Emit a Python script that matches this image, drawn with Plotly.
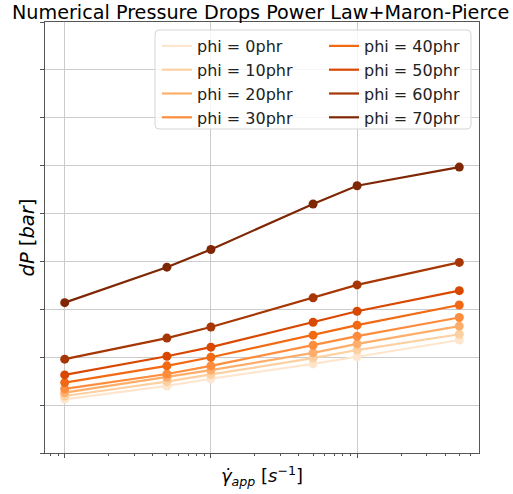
import plotly.graph_objects as go
import numpy as np

shear_rate = [10, 50, 100, 500, 1000, 5000]
phi_labels = ["phi = 0phr", "phi = 10phr", "phi = 20phr", "phi = 30phr",
              "phi = 40phr", "phi = 50phr", "phi = 60phr", "phi = 70phr"]
dp_phi0 = [1.12, 1.40, 1.55, 1.86, 2.01, 2.36]
dp_phi10 = [1.19, 1.49, 1.64, 1.98, 2.15, 2.48]
dp_phi20 = [1.26, 1.58, 1.73, 2.09, 2.28, 2.65]
dp_phi30 = [1.34, 1.65, 1.82, 2.25, 2.44, 2.83]
dp_phi40 = [1.47, 1.82, 2.00, 2.46, 2.67, 3.09]
dp_phi50 = [1.63, 2.02, 2.21, 2.73, 2.96, 3.39]
dp_phi60 = [1.96, 2.40, 2.63, 3.24, 3.51, 3.98]
dp_phi70 = [3.14, 3.88, 4.25, 5.20, 5.58, 5.97]
series = [dp_phi0, dp_phi10, dp_phi20, dp_phi30, dp_phi40, dp_phi50, dp_phi60, dp_phi70]
colors = ["#fee6ce", "#fdd0a2", "#fdae6b", "#fd8d3c",
          "#f16913", "#d94801", "#a63603", "#7f2704"]

fig = go.Figure()
for i, (lab, ys, c) in enumerate(zip(phi_labels, series, colors)):
    leg = "legend" if i < 4 else "legend2"
    fig.add_trace(go.Scatter(x=shear_rate, y=ys, mode="lines", name=lab,
                             line=dict(color=c, width=2.2), legend=leg))
    fig.add_trace(go.Scatter(x=shear_rate, y=ys, mode="markers", showlegend=False,
                             marker=dict(color=c, size=9)))

minor_vals = [m * 10 ** e for e in range(0, 4) for m in range(2, 10)]

font_family = "DejaVu Sans"
W, H = 513, 494
ml, mr, mt, mb = 45, 34, 22, 41
pw, ph = W - ml - mr, H - mt - mb


def px2x(p):
    return (p - ml) / pw


def px2y(p):
    return (H - mb - p) / ph


# rounded legend frame (paper coords)
x0, x1, y0, y1 = px2x(155), px2x(471), px2y(129), px2y(30)
rx, ry = 4 / pw, 4 / ph
frame = (f"M {x0+rx},{y1} L {x1-rx},{y1} Q {x1},{y1} {x1},{y1-ry} "
         f"L {x1},{y0+ry} Q {x1},{y0} {x1-rx},{y0} L {x0+rx},{y0} "
         f"Q {x0},{y0} {x0},{y0+ry} L {x0},{y1-ry} Q {x0},{y1} {x0+rx},{y1} Z")

legend_common = dict(orientation="v", yanchor="top", xanchor="left",
                     bgcolor="rgba(0,0,0,0)", borderwidth=0,
                     font=dict(size=16, family=font_family, color="#222"),
                     itemwidth=30, tracegroupgap=0)

fig.update_layout(
    width=W, height=H,
    margin=dict(l=ml, r=mr, t=mt, b=mb),
    paper_bgcolor="white", plot_bgcolor="white",
    font=dict(family=font_family, color="black"),
    title=dict(text="Numerical Pressure Drops Power Law+Maron-Pierce",
               x=0.508, xanchor="center", y=0.975, yanchor="middle",
               font=dict(size=19.2, family=font_family)),
    showlegend=True,
    legend=dict(x=px2x(157), y=px2y(29), **legend_common),
    legend2=dict(x=px2x(324), y=px2y(29), **legend_common),
    shapes=[dict(type="path", path=frame, xref="paper", yref="paper",
                 fillcolor="rgba(255,255,255,0.8)", line=dict(color="#d5d5d5", width=1),
                 layer="above")],
    xaxis=dict(type="log", range=[np.log10(10) - 0.1349, np.log10(5000) + 0.1349],
               showticklabels=False, ticks="outside", ticklen=4, tickcolor="#555",
               tickvals=[10, 100, 1000],
               showgrid=True, gridcolor="#cccccc", gridwidth=1,
               showline=True, linecolor="#555", linewidth=1, mirror=True,
               zeroline=False,
               minor=dict(tickvals=minor_vals, ticks="outside", ticklen=2,
                          tickcolor="#555", showgrid=False),
               title=dict(text="<i>γ̇</i><sub><i>app</i></sub> [<i>s</i><sup>−1</sup>]",
                          font=dict(size=18, family=font_family), standoff=12)),
    yaxis=dict(range=[0, 9], showticklabels=False, ticks="outside", ticklen=4,
               tickcolor="#555", tickvals=list(range(0, 10)),
               showgrid=True, gridcolor="#cccccc", gridwidth=1,
               showline=True, linecolor="#555", linewidth=1, mirror=True,
               zeroline=False),
    annotations=[dict(text="<i>dP</i> [<i>bar</i>]", xref="paper", yref="paper",
                      x=px2x(27), y=0.5, xanchor="center", yanchor="middle",
                      textangle=-90, showarrow=False,
                      font=dict(size=19.5, family=font_family, color="black"))],
)

fig.write_html("out.html")
